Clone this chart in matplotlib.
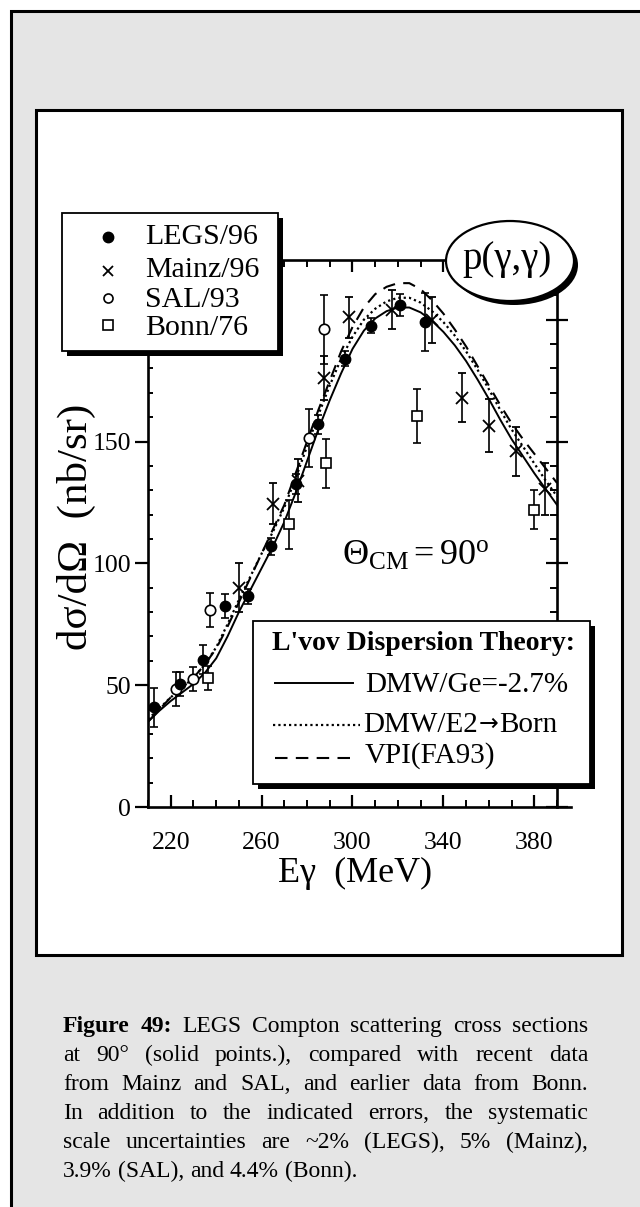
import numpy as np
import matplotlib
matplotlib.use("Agg")
import matplotlib.pyplot as plt
from matplotlib.patches import Rectangle, Ellipse
from matplotlib.ticker import FixedLocator, MultipleLocator

plt.rcParams['font.family'] = ['Liberation Serif', 'DejaVu Serif']
plt.rcParams['mathtext.fontset'] = 'custom'
plt.rcParams['mathtext.rm'] = 'Liberation Serif'
plt.rcParams['mathtext.it'] = 'Liberation Serif:italic'
plt.rcParams['mathtext.bf'] = 'Liberation Serif:bold'

# ---------------- data ----------------
legs_E = [212.5, 224.0, 234.0, 244.0, 254.0, 264.0, 275.0, 285.0, 296.5, 308.0, 321.0, 332.0]
legs_y = [41.0, 50.5, 60.5, 82.5, 86.5, 107.0, 132.5, 157.0, 184.0, 197.5, 206.0, 199.0]
legs_err = [8.0, 5.0, 6.0, 5.0, 3.0, 3.5, 4.0, 4.0, 3.0, 3.0, 4.5, 12.0]

mainz_E = [250.0, 265.0, 276.0, 287.5, 298.5, 317.5, 335.0, 348.0, 360.0, 372.0, 384.5]
mainz_y = [90.0, 124.5, 134.0, 176.0, 201.0, 204.0, 200.0, 168.0, 156.5, 146.0, 130.5]
mainz_err = [10.0, 8.5, 9.0, 9.0, 8.5, 8.0, 9.5, 10.0, 11.0, 10.0, 10.5]

sal_E = [222.5, 230.0, 237.5, 281.0, 287.5]
sal_y = [48.5, 52.5, 81.0, 151.5, 196.0]
sal_err = [7.0, 5.0, 7.0, 12.0, 14.0]

bonn_E = [236.5, 272.0, 288.5, 328.5, 380.0]
bonn_y = [53.0, 116.0, 141.0, 160.5, 122.0]
bonn_err = [5.0, 10.0, 10.0, 11.0, 8.0]

curve_E = [210, 215, 220, 225, 230, 235, 240, 245, 250, 255, 260, 265, 270, 275,
           280, 285, 290, 295, 300, 305, 310, 315, 320, 325, 330, 335, 340, 345,
           350, 355, 360, 365, 370, 375, 380, 385, 390]
dmw_ge = [35.0, 39.5, 43.5, 47.0, 50.5, 55.0, 61.0, 70.0, 80.0, 89.0, 98.0, 107.0,
          117.0, 129.0, 142.0, 155.0, 167.0, 178.0, 188.0, 195.5, 200.5, 203.5,
          205.0, 205.0, 203.0, 199.5, 195.0, 189.5, 183.0, 175.5, 167.5, 159.0,
          151.0, 144.0, 137.0, 130.5, 124.0]
dmw_e2 = [36.0, 40.5, 45.0, 49.0, 53.0, 58.5, 65.5, 75.0, 85.0, 94.5, 104.0, 113.0,
          123.0, 135.0, 148.0, 161.0, 173.0, 184.0, 193.0, 200.0, 204.5, 207.5,
          209.0, 209.0, 207.0, 203.5, 199.0, 193.5, 187.0, 179.5, 171.5, 163.0,
          155.0, 148.0, 141.0, 134.0, 127.5]
vpi_fa93 = [35.0, 40.0, 45.0, 49.0, 53.0, 58.5, 65.0, 74.0, 84.0, 94.0, 104.0, 114.0,
            124.0, 137.0, 150.0, 163.0, 175.0, 187.0, 197.0, 205.0, 210.5, 213.5,
            215.0, 215.0, 212.5, 208.0, 202.5, 196.0, 189.0, 181.0, 173.0, 165.0,
            157.5, 151.0, 145.0, 139.0, 133.0]

x_major = [220, 260, 300, 340, 380]
y_major = [0, 50, 100, 150, 200]

data_labels = ['LEGS/96', 'Mainz/96', 'SAL/93', 'Bonn/76']
theory_title = "L'vov Dispersion Theory:"
theory_labels = ['DMW/Ge=-2.7%', ['DMW/E2', '\u2192', 'Born'], 'VPI(FA93)']

caption = [
    [("Figure", True), ("49:", True), ("LEGS", False), ("Compton", False), ("scattering", False),
     ("cross", False), ("sections", False)],
    "at 90\u00b0 (solid points.), compared with recent data",
    "from Mainz and SAL, and earlier data from Bonn.",
    "In addition to the indicated errors, the systematic",
    "scale uncertainties are ~2% (LEGS), 5% (Mainz),",
    "3.9% (SAL), and 4.4% (Bonn).",
]

# ---------------- figure ----------------
W, H, DPI = 640, 1207, 100
fig = plt.figure(figsize=(W / DPI, H / DPI), dpi=DPI)
fig.patch.set_facecolor('white')
PT = 72.0 / DPI  # points per pixel

bg = fig.add_axes([0, 0, 1, 1], zorder=0)
bg.set_xlim(0, W); bg.set_ylim(H, 0); bg.axis('off')
bg.add_patch(Rectangle((11, 11), 700, 1300, fc='#e5e5e5', ec='black', lw=2.2))
bg.add_patch(Rectangle((36, 110), 586, 845, fc='white', ec='black', lw=2.2))

# main axes (pixel box: x 148..557, y 260..807)
L, R, T, B = 148, 557, 260, 807
ax = fig.add_axes([L / W, 1 - B / H, (R - L) / W, (B - T) / H], zorder=1)
ax.set_xlim(210, 390)
ax.set_ylim(0, 224.5)
for s in ax.spines.values():
    s.set_linewidth(1.9)
ax.spines['bottom'].set_bounds(210, 396)

ax.xaxis.set_major_locator(FixedLocator(x_major))
ax.xaxis.set_minor_locator(MultipleLocator(10))
ax.yaxis.set_major_locator(FixedLocator(y_major))
ax.yaxis.set_minor_locator(MultipleLocator(10))

ax.tick_params(axis='x', which='major', direction='in', length=12 * PT, width=1.6,
               top=True, bottom=True, labelsize=18.5, pad=18)
ax.tick_params(axis='x', which='minor', direction='in', length=7 * PT, width=1.4,
               top=True, bottom=True)
ax.tick_params(axis='y', which='major', direction='out', length=13 * PT, width=1.6,
               left=True, right=False, labelsize=18.5, pad=3)
ax.tick_params(axis='y', which='minor', direction='in', length=5 * PT, width=1.4,
               left=True, right=False)

ax2 = ax.twinx()
ax2.set_ylim(ax.get_ylim())
for s in ax2.spines.values():
    s.set_visible(False)
ax2.yaxis.set_major_locator(FixedLocator(y_major))
ax2.yaxis.set_minor_locator(MultipleLocator(10))
ax2.tick_params(axis='y', which='major', direction='inout', length=23 * PT, width=1.6,
                labelright=False)
ax2.tick_params(axis='y', which='minor', direction='in', length=7 * PT, width=1.4)

# theory curves
ax.plot(curve_E, dmw_ge, color='black', lw=1.4, zorder=2)
ax.plot(curve_E, dmw_e2, color='black', lw=1.6, ls=(0, (1, 1.4)), zorder=2)
ax.plot(curve_E, vpi_fa93, color='black', lw=1.5, ls=(0, (6, 4)), zorder=2)

# data
eb = dict(ecolor='black', elinewidth=1.2, capsize=3.2, capthick=1.2, ls='none', zorder=4)
ax.errorbar(sal_E, sal_y, yerr=sal_err, fmt='o', ms=7.5, mfc='white', mec='black', mew=1.2, **eb)
ax.errorbar(bonn_E, bonn_y, yerr=bonn_err, fmt='s', ms=7.5, mfc='white', mec='black', mew=1.2, **eb)
ax.errorbar(mainz_E, mainz_y, yerr=mainz_err, fmt='x', ms=9, mec='black', mew=1.3, **eb)
ax.errorbar(legs_E, legs_y, yerr=legs_err, fmt='o', ms=7.5, mfc='black', mec='black', **eb)

ax.set_xlabel('E\u03b3  (MeV)', fontsize=26)
ax.xaxis.set_label_coords((355 - L) / (R - L), -(873 - B) / (B - T))
ax.xaxis.label.set_va('center')
ax.set_ylabel('d\u03c3/d\u03a9  (nb/sr)', fontsize=31)
ax.yaxis.set_label_coords((76 - L) / (R - L), (B - 527) / (B - T))
ax.yaxis.label.set_va('center')

# ---------------- overlay (legends, annotations, caption) ----------------
ov = fig.add_axes([0, 0, 1, 1], zorder=5)
ov.set_xlim(0, W); ov.set_ylim(H, 0); ov.axis('off')
ov.patch.set_alpha(0)
renderer = fig.canvas.get_renderer()

def shadow_box(x0, y0, x1, y1, off=5):
    ov.add_patch(Rectangle((x0 + off, y0 + off), x1 - x0, y1 - y0, fc='black', ec='black', lw=0))
    ov.add_patch(Rectangle((x0, y0), x1 - x0, y1 - y0, fc='white', ec='black', lw=1.3))

# legend 1: data sets
shadow_box(62, 213, 278, 351, off=5)
mk_y = [237, 271, 298, 325]
tx_y = [244, 277, 307, 335]
ov.plot([108], [mk_y[0]], 'o', ms=7.5, mfc='black', mec='black')
ov.plot([108], [mk_y[1]], 'x', ms=7.5, mec='black', mew=1.3)
ov.plot([108], [mk_y[2]], 'o', ms=6.5, mfc='white', mec='black', mew=1.2)
ov.plot([108], [mk_y[3]], 's', ms=6.5, mfc='white', mec='black', mew=1.2)
for lab, yy in zip(data_labels, tx_y):
    ov.text(145, yy, lab, fontsize=21.5, ha='left', va='baseline')

# p(gamma,gamma) ellipse
ov.add_patch(Ellipse((514, 265), 128, 80, fc='black', ec='black', lw=0))
ov.add_patch(Ellipse((510, 261), 128, 80, fc='white', ec='black', lw=1.6))
ov.text(507, 260, 'p(\u03b3,\u03b3)', fontsize=28, ha='center', va='center')

# theta annotation
ov.text(342, 565, r'$\Theta_{\rm CM} = 90^{\rm o}$', fontsize=26, ha='left', va='baseline')

# legend 2: theory
shadow_box(253, 621, 590, 784, off=5)
ov.text(272, 650, theory_title, fontsize=20, fontweight='bold', ha='left', va='baseline')
ov.plot([275, 353], [683, 683], color='black', lw=1.4)
ov.plot([273, 360], [725, 725], color='black', lw=1.6, ls=(0, (1, 1.4)))
ov.plot([275, 353], [758, 758], color='black', lw=1.5, ls=(0, (6, 4)))
ov.text(365, 692, theory_labels[0], fontsize=21, ha='left', va='baseline')
xx = 363
for k, piece in enumerate(theory_labels[1]):
    fam = ['DejaVu Sans'] if k == 1 else ['Liberation Serif', 'DejaVu Serif']
    t = ov.text(xx, 732 if k != 1 else 731, piece, fontsize=21 if k != 1 else 17,
                family=fam, ha='left', va='baseline')
    xx += t.get_window_extent(renderer).width + (1 if k == 1 else 1)
ov.text(365, 763, theory_labels[2], fontsize=21, ha='left', va='baseline')

# caption (justified)
CAP_X0, CAP_X1, CAP_Y0, CAP_DY, CAP_FS = 63, 588, 1032, 29, 17
tmp1 = ov.text(0, 0, 'a a', fontsize=CAP_FS)
tmp2 = ov.text(0, 0, 'aa', fontsize=CAP_FS)
space_w = tmp1.get_window_extent(renderer).width - tmp2.get_window_extent(renderer).width
tmp1.remove(); tmp2.remove()
for i, line in enumerate(caption):
    if isinstance(line, str):
        words = [(w, False) for w in line.split()]
    else:
        words = line
    y = CAP_Y0 + i * CAP_DY
    texts, widths = [], []
    for w, bold in words:
        t = ov.text(0, y, w, fontsize=CAP_FS, fontweight='bold' if bold else 'normal',
                    ha='left', va='baseline')
        widths.append(t.get_window_extent(renderer).width)
        texts.append(t)
    last = (i == len(caption) - 1)
    if last or len(words) == 1:
        gap = space_w
    else:
        gap = (CAP_X1 - CAP_X0 - sum(widths)) / (len(words) - 1)
    x = CAP_X0
    for t, w in zip(texts, widths):
        t.set_x(x)
        x += w + gap

fig.savefig('out.png', dpi=DPI, facecolor=fig.get_facecolor())
